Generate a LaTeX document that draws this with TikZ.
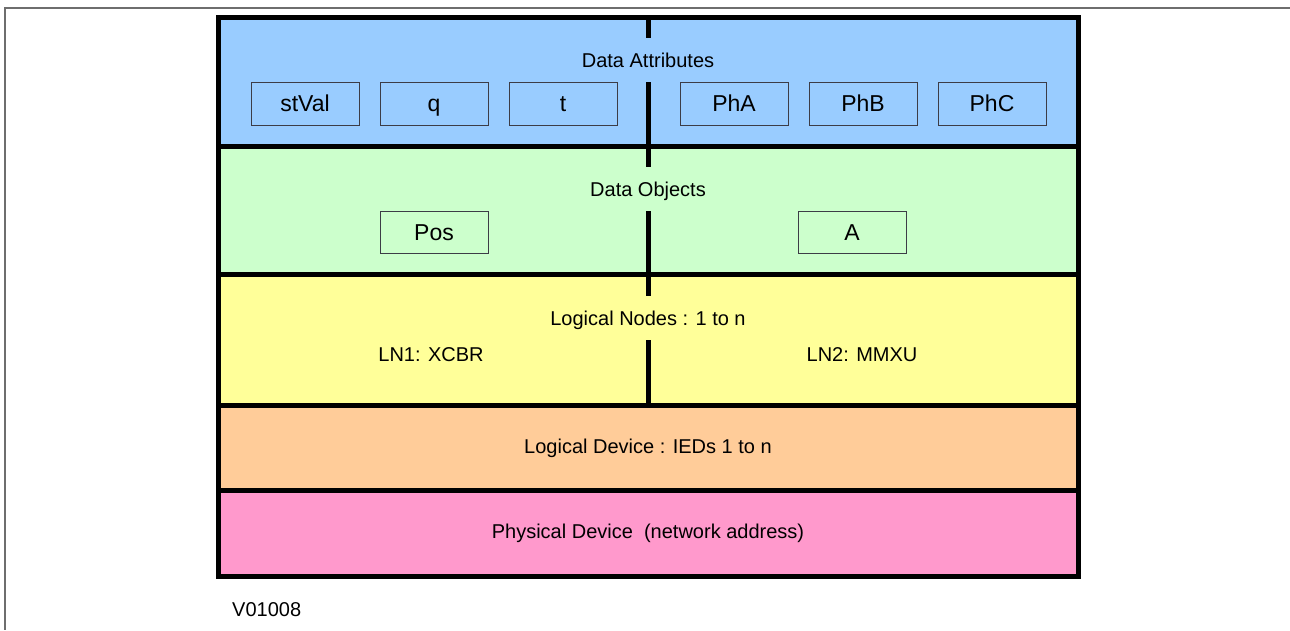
\documentclass[tikz,border=0pt]{standalone}
\usepackage{fontspec}
\setmainfont{Liberation Sans}
\usepackage{tikz}
\usetikzlibrary{positioning}
\definecolor{attrblue}{RGB}{153,204,255}
\definecolor{objgreen}{RGB}{204,255,204}
\definecolor{nodeyellow}{RGB}{255,255,153}
\definecolor{devorange}{RGB}{255,204,153}
\definecolor{physpink}{RGB}{255,153,204}
\definecolor{framegray}{RGB}{110,110,110}
\definecolor{boxedge}{RGB}{60,60,70}

\begin{document}
\begin{tikzpicture}[
    x=1pt, y=-1pt,
    layer/.style={draw=black, line width=5pt},
    title/.style={font=\fontsize{20}{24}\selectfont, inner sep=0pt,
                  text height=14.5pt, text depth=0pt},
    attr/.style={draw=boxedge, line width=1pt, minimum width=108pt, minimum height=43pt,
                 inner sep=0pt, text height=16pt, text depth=0pt,
                 font=\fontsize{23}{27}\selectfont},
    divider/.style={line width=5pt, black}
]
\useasboundingbox (0,0) rectangle (1290,630);
\draw[framegray, line width=2pt] (1290,8) -- (5,8) -- (5,630);

% layers, top to bottom
\draw[layer, fill=attrblue]   (218,17)  rectangle (1078,146);
\draw[layer, fill=objgreen]   (218,146) rectangle (1078,274);
\draw[layer, fill=nodeyellow] (218,274) rectangle (1078,405);
\draw[layer, fill=devorange]  (218,405) rectangle (1078,490);
\draw[layer, fill=physpink]   (218,490) rectangle (1078,576);

% centre divider, broken round the titles
\foreach \top/\bot in {17/38, 82/167, 211/296, 340/405}
    \draw[divider] (648,\top) -- (648,\bot);

% layer titles
\node[title] (attrs)  at (648,60)  {Data Attributes};
\node[title] (objs)   at (648,189) {Data Objects};
\node[title] (lnodes) at (648,318) {Logical Nodes : 1 to n};
\node[title] (ldev)   at (648,446) {Logical Device :  IEDs 1 to n};
\node[title] (pdev)   at (648,531) {Physical Device \ (network address)};

% attributes and objects
\foreach \name/\x in {stVal/305, q/434, t/563, PhA/734, PhB/863, PhC/992}
    \node[attr, fill=attrblue] (da-\name) at (\x,103.5) {\name};
\node[attr, fill=objgreen, minimum height=42pt] (do-Pos) at (434,232) {Pos};
\node[attr, fill=objgreen, minimum height=42pt] (do-A)   at (852,232) {A};

% logical nodes
\node[title] (ln1) at (431,354) {LN1: XCBR};
\node[title] (ln2) at (862,354) {LN2: MMXU};

\node[title, anchor=west] (ref) at (232,609) {V01008};
\end{tikzpicture}
\end{document}
